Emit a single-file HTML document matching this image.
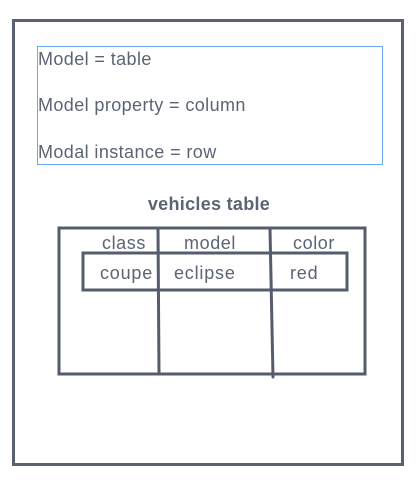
<!DOCTYPE html>
<html><head><style>
body{margin:0;background:#fff;}
svg text{font-family:"Liberation Sans",sans-serif;fill:#5c6474;}
</style></head><body>
<svg width="420" height="486" viewBox="0 0 420 486">
<rect x="13.5" y="20.5" width="389" height="444" fill="none" stroke="#5a6172" stroke-width="3"/>
<rect x="37.5" y="46.5" width="345" height="118" fill="none" stroke="#6aaaf5" stroke-width="1"/>
<text x="38" y="65" font-size="18" letter-spacing="0.4">Model = table</text>
<text x="38" y="111" font-size="18" letter-spacing="0.4">Model property = column</text>
<text x="38" y="158" font-size="18" letter-spacing="0.4">Modal instance = row</text>
<text x="209" y="210" font-size="18" font-weight="bold" letter-spacing="0.3" text-anchor="middle">vehicles table</text>
<g fill="none" stroke="#555c6c" stroke-width="3" stroke-linecap="round">
<rect x="59" y="228" width="306" height="146"/>
<line x1="158" y1="229" x2="159" y2="373"/>
<line x1="270" y1="229" x2="273" y2="377"/>
<rect x="83" y="253" width="264" height="37"/>
</g>
<text x="124" y="249" font-size="18" letter-spacing="0.6" text-anchor="middle">class</text>
<text x="210" y="249" font-size="18" letter-spacing="0.6" text-anchor="middle">model</text>
<text x="314" y="249" font-size="18" letter-spacing="0.6" text-anchor="middle">color</text>
<text x="100" y="279" font-size="18" letter-spacing="0.8">coupe</text>
<text x="174" y="279" font-size="18" letter-spacing="0.8">eclipse</text>
<text x="290" y="279" font-size="18" letter-spacing="0.8">red</text>
</svg>
</body></html>
